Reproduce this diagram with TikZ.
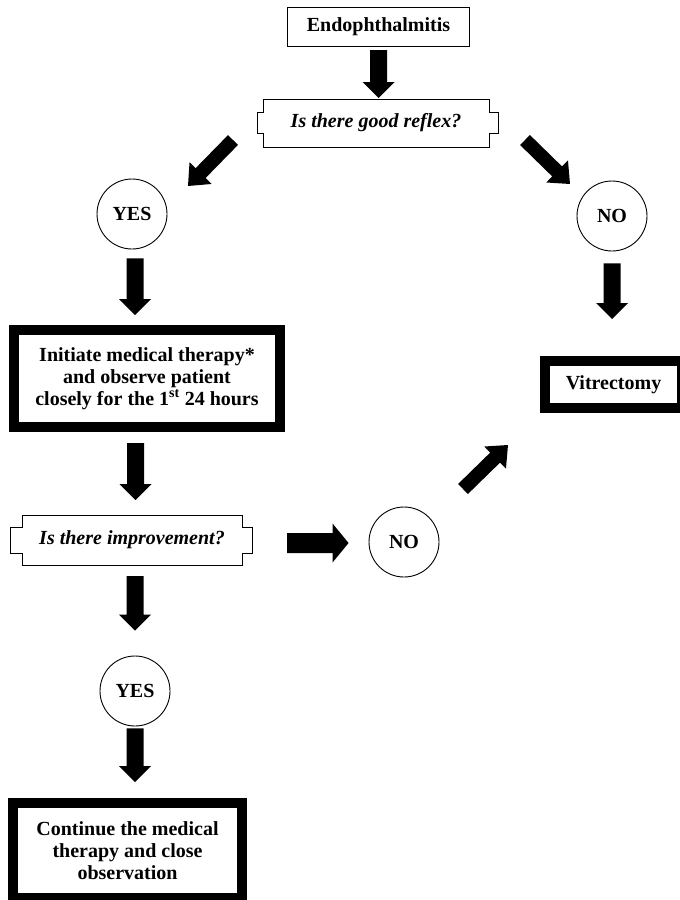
\documentclass[tikz,border=0pt]{standalone}
\usepackage{fontspec}
\setmainfont{Liberation Serif}
\usetikzlibrary{calc}
\tikzset{
  txt/.style={font=\fontsize{20}{22}\selectfont\bfseries, align=center, inner sep=0pt, outer sep=0pt},
  thinbox/.style={txt, draw, line width=1.2pt, outer sep=0.6pt},
  thickbox/.style={txt, draw, line width=10pt, outer sep=5pt},
  decnode/.style={txt, font=\fontsize{20}{22}\selectfont\bfseries\itshape},
  decline/.style={draw, line width=0.9pt},
  answer/.style={txt, circle, draw, line width=0.9pt, minimum size=70pt, outer sep=0.45pt},
  blk/.style n args={3}{to path={
    let \p1=(\tikztostart), \p2=(\tikztotarget),
        \n1={atan2(\y2-\y1,\x2-\x1)}, \n2={veclen(\x2-\x1,\y2-\y1)} in
    ($(\p1)+({\n1+90}:#1)$)
    -- ($(\p1)+({\n1}:{\n2-#3})+({\n1+90}:#1)$)
    -- ($(\p1)+({\n1}:{\n2-#3})+({\n1+90}:#2)$)
    -- (\p2)
    -- ($(\p1)+({\n1}:{\n2-#3})+({\n1-90}:#2)$)
    -- ($(\p1)+({\n1}:{\n2-#3})+({\n1-90}:#1)$)
    -- ($(\p1)+({\n1-90}:#1)$) -- cycle}},
  varr/.style={fill=black, blk={8.5pt}{16pt}{16pt}},
  darr/.style={fill=black, blk={7pt}{15.5pt}{18pt}},
  harr/.style={fill=black, blk={10pt}{19.5pt}{16pt}}
}
\begin{document}
\begin{tikzpicture}[x=1pt,y=-1pt]
\path[use as bounding box] (0,0) rectangle (680,900);
\clip (0,0) rectangle (680,900);

% nodes
\node[thinbox, minimum width=182pt, minimum height=39pt] (endo) at (378.5,27) {Endophthalmitis};
\node[decnode, minimum width=226pt, minimum height=48pt] (d1) at (376,123) {Is there good reflex?};
\draw[decline] (d1.north west) -- (d1.north east) -- ++(0,13) -- ++(9,0) -- ++(0,21) -- ++(-9,0)
  -- (d1.south east) -- (d1.south west) -- ++(0,-14) -- ++(-6,0) -- ++(0,-21) -- ++(6,0) -- cycle;
\node[answer] (yes1) at (132,214) {YES};
\node[answer] (no1) at (612,216) {NO};
\node[thickbox, minimum width=266pt, minimum height=97pt] (init) at (147,378.5)
  {Initiate medical therapy*\\and observe patient\\closely for the 1\textsuperscript{st} 24 hours};
\node[thickbox, minimum width=137pt, minimum height=47pt] (vit) at (613.5,384.5) {Vitrectomy};
\node[decnode, minimum width=220pt, minimum height=50pt] (d2) at (132,540) {Is there improvement?};
\draw[decline] (d2.north west) -- (d2.north east) -- ++(0,12) -- ++(10,0) -- ++(0,26) -- ++(-10,0)
  -- (d2.south east) -- (d2.south west) -- ++(0,-12) -- ++(-12,0) -- ++(0,-26) -- ++(12,0) -- cycle;
\node[answer] (no2) at (404,542) {NO};
\node[answer] (yes2) at (135,691) {YES};
\node[thickbox, minimum width=229pt, minimum height=95pt] (cont) at (127.5,850.5)
  {Continue the medical\\therapy and close\\observation};

% block-arrow connectors
\path[varr] ([shift={(0,3)}]endo.south) to ([shift={(0,-1)}]endo.south |- d1.north);
\path[darr] ([shift={(-30,-7)}]d1.south west) to ([shift={(56,-28)}]yes1.center);
\path[darr] ([shift={(36,-7)}]d1.south east) to ([shift={(-42,-32)}]no1.center);
\path[varr] ([shift={(3,9)}]yes1.south) to ([shift={(3,-10)}]yes1.south |- init.north);
\path[varr] ([shift={(0,12)}]no1.south) to ([shift={(0,-37)}]no1.south |- vit.north);
\path[varr] ([shift={(3.5,11)}]d2.north |- init.south) to ([shift={(3.5,-15)}]d2.north);
\path[harr] ([shift={(45,3)}]d2.east) to ([shift={(-20,1)}]no2.west);
\path[darr] ([shift={(59,-53)}]no2.center) to ([shift={(-32,32)}]vit.south west);
\path[varr] ([shift={(3,11)}]d2.south) to ([shift={(0,-25)}]yes2.north);
\path[varr] ([shift={(0,2)}]yes2.south) to ([shift={(7.5,-16)}]cont.north);
\end{tikzpicture}
\end{document}
